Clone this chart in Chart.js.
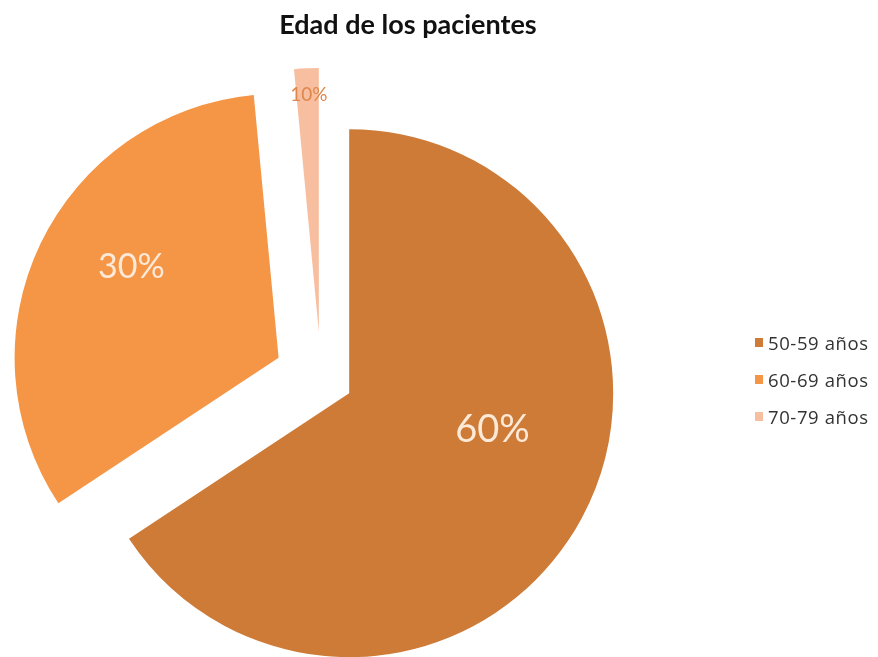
<!DOCTYPE html>
<html>
<head>
<meta charset="utf-8">
<script src="https://cdn.jsdelivr.net/npm/chart.js@4/dist/chart.umd.min.js"></script>
<style>
    body { margin: 0; background: #fff; }
    #wrap { position: relative; width: 878px; height: 657px; }
    #chartTitle {
        position: absolute; left: 208px; width: 400px; top: 7px;
        text-align: center; font: bold 27px Lato, sans-serif; color: #111;
    }
    #legend {
        position: absolute; left: 755px; top: 324px;
        font: 18.5px "Open Sans", sans-serif; color: #333; letter-spacing: 0.6px;
    }
    #legend div { height: 37px; display: flex; align-items: center; }
    #legend span.box { width: 8px; height: 9px; margin-right: 5px; display: inline-block; }
</style>
</head>
<body>
<div id="wrap">
    <canvas id="edadChart" width="878" height="657"></canvas>
    <div id="chartTitle">Edad de los pacientes</div>
    <div id="legend"></div>
</div>
<script>
const categories = ['50-59 años', '60-69 años', '70-79 años'];
// slice sizes as drawn in the picture (angles), printed labels as they read
const sliceValues = [65.7, 32.8, 1.5];
const printedLabels = ['60%', '30%', '10%'];
const sliceColors = ['#CD7B37', '#F59647', '#F7BFA0'];

const pieRadius = 264;

const labelStyle = [
    { shift: -14, dist: 0.56, size: 38, color: '#FCE9D8' },
    { shift: 6.2, dist: 0.656, size: 34, color: '#FCE9D8' },
    { shift: 0.3, dist: 0.898, size: 19, color: '#E0864A' }
];

// chart.js moves an arc a quarter of its offset, but also grows its radius
// and trims its angle; undo both so slices keep one radius and true size
const sameRadius = {
    id: 'sameRadius',
    afterDatasetUpdate(chart) {
        chart.getDatasetMeta(0).data.forEach(arc => {
            const fix = 1 - Math.sin(Math.min(Math.PI, arc.circumference || 0));
            const grow = (arc.options.offset / 4) * fix;
            arc.outerRadius = pieRadius - grow;
            const trim = grow / Math.PI / pieRadius / 2;
            arc.startAngle -= trim;
            arc.endAngle += trim;
        });
    }
};

const sliceLabels = {
    id: 'sliceLabels',
    afterDatasetsDraw(chart) {
        const ctx = chart.ctx;
        const arcs = chart.getDatasetMeta(0).data;
        arcs.forEach((arc, i) => {
            const { x, y, startAngle, endAngle } = arc.getProps(['x', 'y', 'startAngle', 'endAngle'], true);
            const off = arc.options.offset / 4;
            const mid = (startAngle + endAngle) / 2;
            const vx = x + Math.cos(mid) * off;
            const vy = y + Math.sin(mid) * off;
            const st = labelStyle[i];
            const a = mid + st.shift * Math.PI / 180;
            const r = pieRadius * st.dist;
            ctx.save();
            ctx.font = st.size + 'px Lato, sans-serif';
            ctx.fillStyle = st.color;
            ctx.textAlign = 'center';
            ctx.textBaseline = 'middle';
            ctx.fillText(printedLabels[i], vx + Math.cos(a) * r, vy + Math.sin(a) * r);
            ctx.restore();
        });
    }
};

const legendBox = document.getElementById('legend');
categories.forEach((c, i) => {
    const row = document.createElement('div');
    const box = document.createElement('span');
    box.className = 'box';
    box.style.background = sliceColors[i];
    row.appendChild(box);
    row.appendChild(document.createTextNode(c));
    legendBox.appendChild(row);
});

new Chart(document.getElementById('edadChart').getContext('2d'), {
    type: 'pie',
    data: {
        labels: categories,
        datasets: [{
            data: sliceValues,
            backgroundColor: sliceColors,
            borderWidth: 0,
            offset: [128, 188, 184],
            clip: false
        }]
    },
    options: {
        responsive: false,
        animation: false,
        radius: pieRadius,
        layout: { padding: { left: 57, right: 293, top: 114, bottom: 15 } },
        plugins: {
            legend: { display: false },
            title: { display: false },
            tooltip: { enabled: false }
        }
    },
    plugins: [sameRadius, sliceLabels]
});
</script>
</body>
</html>
